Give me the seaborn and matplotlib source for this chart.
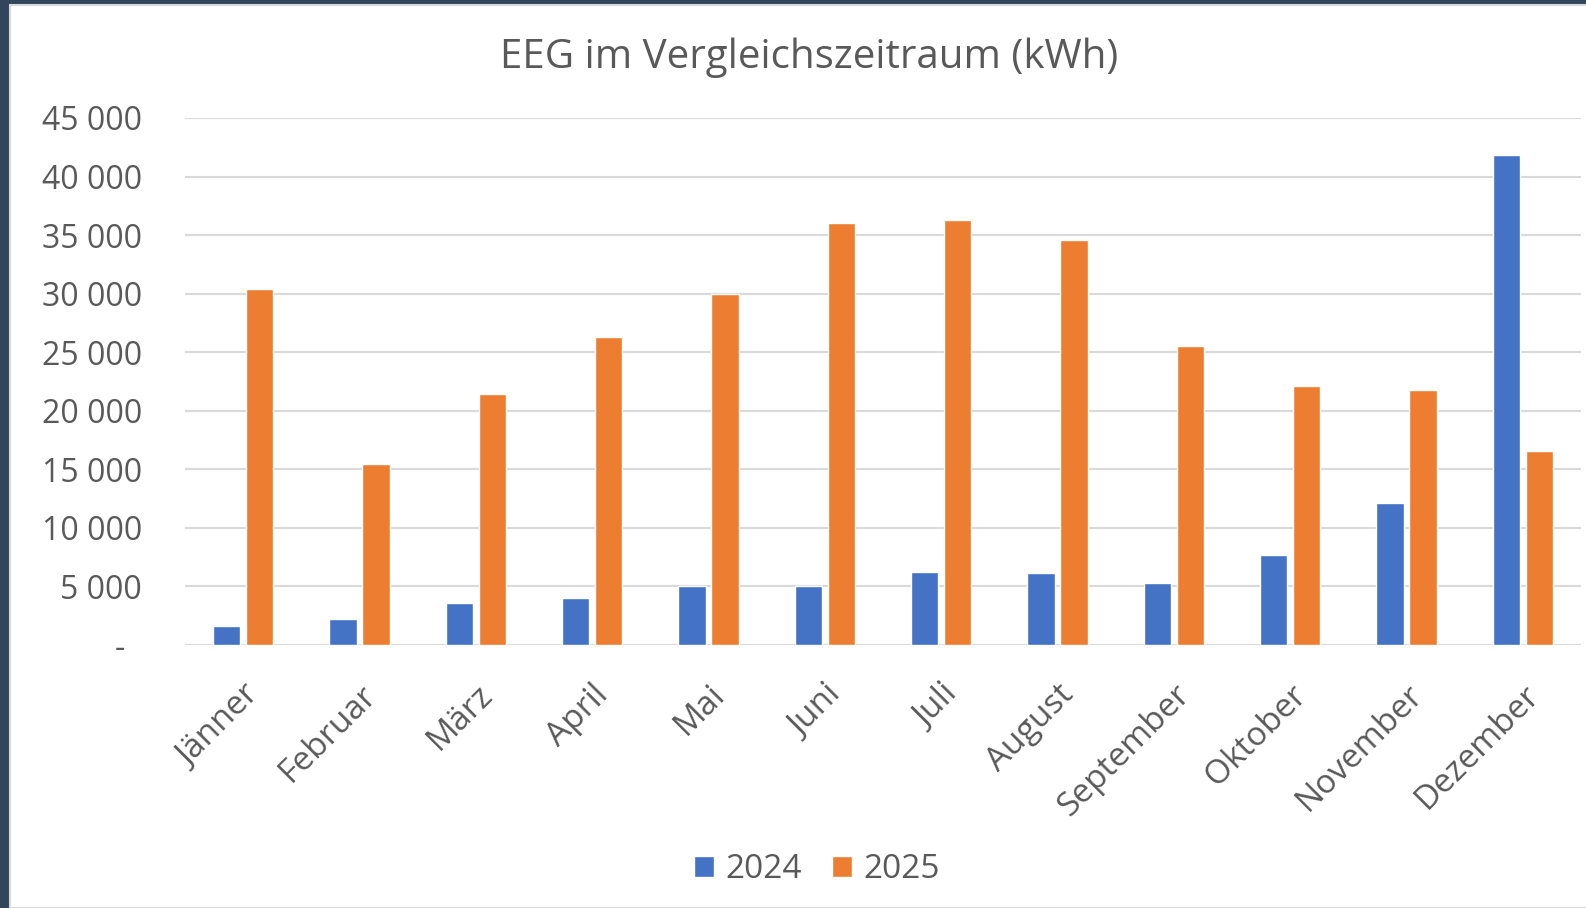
import pandas as pd
import matplotlib.pyplot as plt
import seaborn as sns
from matplotlib.patches import Rectangle

# Daten (kWh)
monate = ["Jänner", "Februar", "März", "April", "Mai", "Juni", "Juli",
          "August", "September", "Oktober", "November", "Dezember"]
werte_2024 = [1600, 2250, 3550, 4050, 5000, 5000, 6250, 6150, 5300, 7650, 12150, 41800]
werte_2025 = [30400, 15450, 21400, 26300, 29950, 36050, 36300, 34550, 25500, 22150, 21750, 16550]
jahre = ["2024", "2025"]
y_ticks = [0, 5000, 10000, 15000, 20000, 25000, 30000, 35000, 40000, 45000]

df = pd.DataFrame({
    "Monat": monate * 2,
    "Jahr": [jahre[0]] * 12 + [jahre[1]] * 12,
    "kWh": werte_2024 + werte_2025,
})

sns.set_theme(style="white")
plt.rcParams["font.family"] = ["Open Sans", "DejaVu Sans"]
grau = "#595959"

fig = plt.figure(figsize=(15.86, 9.08), dpi=100)
fig.patch.set_facecolor("#33455C")
fig.patches.append(Rectangle((10 / 1586, 0), 1, 1 - 5 / 908, transform=fig.transFigure,
                             facecolor="white", edgecolor="#D9D9D9", lw=1.5, zorder=-5))

ax = fig.add_axes([185 / 1586, 1 - 645 / 908, (1581 - 185) / 1586, (645 - 118) / 908])
ax.set_facecolor("none")
sns.barplot(data=df, x="Monat", y="kWh", hue="Jahr", order=monate,
            palette=["#4472C4", "#ED7D31"], width=0.57, gap=0.18,
            saturation=1, ax=ax, legend=True, zorder=3)

ax.set_ylim(0, 45000)
ax.set_xlim(-0.5, 11.5)
ax.set_yticks(y_ticks)
ax.set_yticklabels(["-  "] + [f"{v // 1000} 000" for v in y_ticks[1:]])
ax.yaxis.grid(True, color="#D9D9D9", lw=1.5, zorder=0)
ax.set_axisbelow(True)
for s in ax.spines.values():
    s.set_visible(False)
ax.axhline(0, color="#D9D9D9", lw=1.8, zorder=2)
ax.tick_params(axis="y", length=0, pad=31, labelsize=23, labelcolor=grau)
ax.tick_params(axis="x", length=0, pad=24, labelsize=24, labelcolor=grau)
plt.setp(ax.get_xticklabels(), rotation=45, ha="right", rotation_mode="anchor")
ax.set_xlabel("")
ax.set_ylabel("")

ax.legend(loc="center", bbox_to_anchor=(0.515, 1 - 870 / 908), bbox_transform=fig.transFigure,
          ncol=2, frameon=False, fontsize=24, labelcolor=grau, handlelength=0.6,
          handleheight=0.6, handletextpad=0.35, columnspacing=0.9)

fig.text(0.51, 1 - 58 / 908, "EEG im Vergleichszeitraum (kWh)", ha="center", va="center",
         fontsize=29, color=grau)

plt.savefig("out.png", dpi=100, facecolor=fig.get_facecolor())
